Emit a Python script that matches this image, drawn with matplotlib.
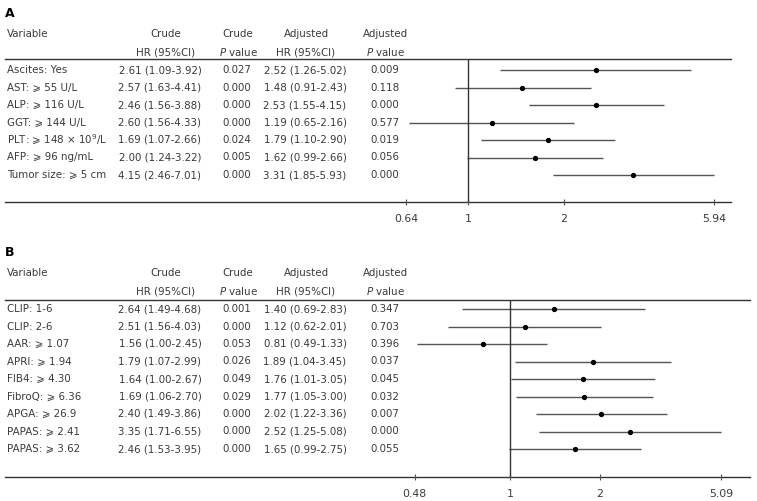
import matplotlib
matplotlib.use("Agg")
import matplotlib.pyplot as plt
import numpy as np

# panel A data
varsA = ["Ascites: Yes", "AST: \u2a7e 55 U/L", "ALP: \u2a7e 116 U/L", "GGT: \u2a7e 144 U/L",
         "PLT: \u2a7e 148 \u00d7 10$^9$/L", "AFP: \u2a7e 96 ng/mL", "Tumor size: \u2a7e 5 cm"]
crude_hrA = ["2.61 (1.09-3.92)", "2.57 (1.63-4.41)", "2.46 (1.56-3.88)", "2.60 (1.56-4.33)",
             "1.69 (1.07-2.66)", "2.00 (1.24-3.22)", "4.15 (2.46-7.01)"]
crude_pA = ["0.027", "0.000", "0.000", "0.000", "0.024", "0.005", "0.000"]
adj_hrA = [2.52, 1.48, 2.53, 1.19, 1.79, 1.62, 3.31]
adj_loA = [1.26, 0.91, 1.55, 0.65, 1.10, 0.99, 1.85]
adj_hiA = [5.02, 2.43, 4.15, 2.16, 2.90, 2.66, 5.93]
adj_pA = ["0.009", "0.118", "0.000", "0.577", "0.019", "0.056", "0.000"]
ticksA = [0.64, 1, 2, 5.94]

# panel B data
varsB = ["CLIP: 1-6", "CLIP: 2-6", "AAR: \u2a7e 1.07", "APRI: \u2a7e 1.94", "FIB4: \u2a7e 4.30",
         "FibroQ: \u2a7e 6.36", "APGA: \u2a7e 26.9", "PAPAS: \u2a7e 2.41", "PAPAS: \u2a7e 3.62"]
crude_hrB = ["2.64 (1.49-4.68)", "2.51 (1.56-4.03)", "1.56 (1.00-2.45)", "1.79 (1.07-2.99)",
             "1.64 (1.00-2.67)", "1.69 (1.06-2.70)", "2.40 (1.49-3.86)", "3.35 (1.71-6.55)",
             "2.46 (1.53-3.95)"]
crude_pB = ["0.001", "0.000", "0.053", "0.026", "0.049", "0.029", "0.000", "0.000", "0.000"]
adj_hrB = [1.40, 1.12, 0.81, 1.89, 1.76, 1.77, 2.02, 2.52, 1.65]
adj_loB = [0.69, 0.62, 0.49, 1.04, 1.01, 1.05, 1.22, 1.25, 0.99]
adj_hiB = [2.83, 2.01, 1.33, 3.45, 3.05, 3.00, 3.36, 5.08, 2.75]
adj_pB = ["0.347", "0.703", "0.396", "0.037", "0.045", "0.032", "0.007", "0.000", "0.055"]
ticksB = [0.48, 1, 2, 5.09]

W, H = 757, 501
fig = plt.figure(figsize=(W / 100, H / 100), dpi=100)
bg = fig.add_axes([0, 0, 1, 1])
bg.set_xlim(0, W)
bg.set_ylim(H, 0)
bg.axis("off")

txt = "#3a3a3a"
fs = 7.4


def fmt(v):
    return "%.2f (%.2f-%.2f)" % v


def panel(label, y_lab, y_h1, y_top, y_row0, y_bot, x_end, xlim,
          names, chr_, cp, hr, lo, hi, ap, ticks):
    step = 17.5
    bg.text(5, y_lab, label, fontsize=9, fontweight="bold", color="black", va="center")
    y_h2 = y_h1 + 18
    bg.text(7, y_h1, "Variable", fontsize=fs, color=txt, va="center")
    bg.text(166, y_h1, "Crude", fontsize=fs, color=txt, va="center", ha="center")
    bg.text(166, y_h2, "HR (95%CI)", fontsize=fs, color=txt, va="center", ha="center")
    bg.text(238, y_h1, "Crude", fontsize=fs, color=txt, va="center", ha="center")
    bg.text(238, y_h2, "$P$ value", fontsize=fs, color=txt, va="center", ha="center")
    bg.text(306, y_h1, "Adjusted", fontsize=fs, color=txt, va="center", ha="center")
    bg.text(306, y_h2, "HR (95%CI)", fontsize=fs, color=txt, va="center", ha="center")
    bg.text(385, y_h1, "Adjusted", fontsize=fs, color=txt, va="center", ha="center")
    bg.text(385, y_h2, "$P$ value", fontsize=fs, color=txt, va="center", ha="center")
    bg.plot([5, x_end], [y_top, y_top], color="#333333", lw=1)
    bg.plot([5, x_end], [y_bot, y_bot], color="#333333", lw=1)
    for i in range(len(names)):
        y = y_row0 + i * step
        bg.text(7, y, names[i], fontsize=fs, color=txt, va="center")
        bg.text(160, y, chr_[i], fontsize=fs, color=txt, va="center", ha="center")
        bg.text(237, y, cp[i], fontsize=fs, color=txt, va="center", ha="center")
        bg.text(305, y, fmt((hr[i], lo[i], hi[i])), fontsize=fs, color=txt, va="center", ha="center")
        bg.text(385, y, ap[i], fontsize=fs, color=txt, va="center", ha="center")

    # forest axes
    x0 = 400
    ax = fig.add_axes([x0 / W, 1 - y_bot / H, (x_end - x0) / W, (y_bot - y_top) / H])
    ax.set_xscale("log")
    ax.set_xlim(*xlim)
    n = len(names)
    ax.set_ylim((y_bot - y_row0) / step, (y_top - y_row0) / step)
    rows = np.arange(n)
    ax.hlines(rows, lo, hi, color="#555555", lw=1)
    ax.plot(hr, rows, "o", color="black", ms=2.8)
    ax.axvline(1, color="#333333", lw=1)
    for s in ax.spines.values():
        s.set_visible(False)
    ax.patch.set_alpha(0)
    ax.set_yticks([])
    ax.set_xticks(ticks)
    ax.set_xticklabels([str(t) for t in ticks])
    ax.minorticks_off()
    ax.tick_params(axis="x", direction="inout", length=5, width=0.8, color="#555555",
                   labelsize=fs + 0.4, labelcolor=txt, pad=6)


panel("A", 13, 34, 59, 70, 202, 731, (0.611, 6.72),
      varsA, crude_hrA, crude_pA, adj_hrA, adj_loA, adj_hiA, adj_pA, ticksA)
panel("B", 252, 273, 300, 309, 477, 750, (0.429, 6.34),
      varsB, crude_hrB, crude_pB, adj_hrB, adj_loB, adj_hiB, adj_pB, ticksB)

fig.savefig("out.png", dpi=100)
